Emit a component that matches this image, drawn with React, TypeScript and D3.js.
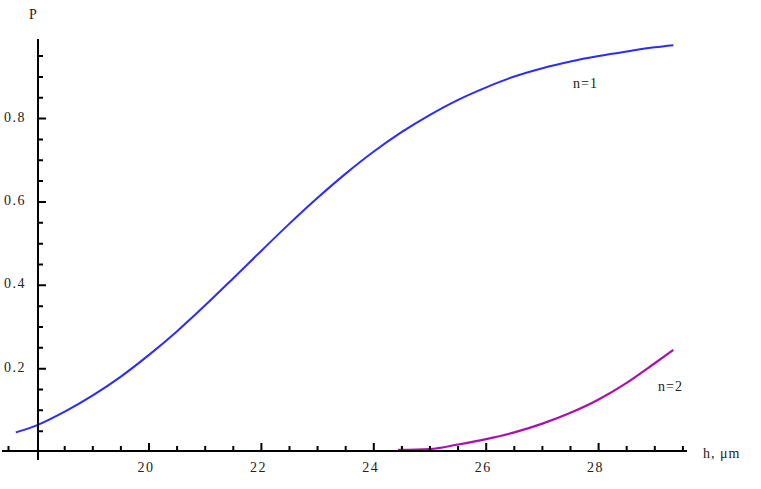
import React from "react";
import * as d3 from "d3";

const xTicksMajor = [20, 22, 24, 26, 28];
const yTicksMajor = [0.2, 0.4, 0.6, 0.8];

const hN1 = [17.63, 18, 18.5, 19, 19.5, 20, 20.5, 21, 21.5, 22, 22.5, 23, 23.5, 24, 24.5, 25, 25.5, 26, 26.5, 27, 27.5, 28, 28.5, 29, 29.33];
const pN1 = [0.047, 0.064, 0.097, 0.136, 0.181, 0.233, 0.29, 0.352, 0.417, 0.483, 0.548, 0.61, 0.668, 0.721, 0.768, 0.809, 0.845, 0.875, 0.901, 0.921, 0.937, 0.95, 0.961, 0.971, 0.976];

const hN2 = [24.43, 25.0, 25.5, 26, 26.5, 27, 27.5, 28, 28.5, 29, 29.33];
const pN2 = [0.005, 0.007, 0.018, 0.031, 0.047, 0.068, 0.094, 0.126, 0.166, 0.213, 0.245];

const W = 761;
const H = 489;

export default function App() {
  const x = d3.scaleLinear().domain([20, 28]).range([149, 598.6]);
  const y = d3.scaleLinear().domain([0, 0.8]).range([452, 118.6]);

  const line = d3
    .line<[number, number]>()
    .x((d) => x(d[0]))
    .y((d) => y(d[1]))
    .curve(d3.curveMonotoneX);

  const d1 = line(hN1.map((h, i) => [h, pN1[i]] as [number, number])) || "";
  const d2 = line(hN2.map((h, i) => [h, pN2[i]] as [number, number])) || "";

  const axisX0 = 38;
  const axisY0 = 451;

  const xMinor = d3.range(17.5, 29.51, 0.5).filter((v) => !xTicksMajor.some((m) => Math.abs(m - v) < 1e-6) && Math.abs(v - 18) > 1e-6);
  const yMinor = d3.range(0.05, 0.96, 0.05).filter((v) => !yTicksMajor.some((m) => Math.abs(m - v) < 1e-6));

  const font = "'Liberation Serif', 'Times New Roman', serif";

  const tickPath =
    xTicksMajor.map((v) => `M${x(v)},${axisY0}V${axisY0 - 8}`).join("") +
    xMinor.map((v) => `M${x(v)},${axisY0}V${axisY0 - 5}`).join("") +
    yTicksMajor.map((v) => `M${axisX0},${y(v)}H${axisX0 + 8}`).join("") +
    yMinor.map((v) => `M${axisX0},${y(v)}H${axisX0 + 5}`).join("");

  return (
    <svg width={W} height={H} style={{ position: "absolute", left: 0, top: 0, background: "#fff" }}>
      {/* curves */}
      <path d={d1} fill="none" stroke="#2b2bff" strokeWidth={2} />
      <path d={d2} fill="none" stroke="#aa10b0" strokeWidth={2.2} />

      {/* axes */}
      <path d={`M2,${axisY0}H687M${axisX0},39V460`} fill="none" stroke="#000" strokeWidth={2} />
      <path d={tickPath} fill="none" stroke="#000" strokeWidth={2} />

      {xTicksMajor.map((v) => (
        <text key={"xl" + v} x={x(v) - 3} y={472} fontFamily={font} fontSize={14} letterSpacing={1.5} textAnchor="middle" fill="#222">
          {v}
        </text>
      ))}
      {yTicksMajor.map((v) => (
        <text key={"yl" + v} x={26} y={y(v) + 3} fontFamily={font} fontSize={14} letterSpacing={1.5} textAnchor="end" fill="#222">
          {v.toFixed(1)}
        </text>
      ))}

      {/* labels */}
      <text x={29} y={19} fontFamily={font} fontSize={14} fill="#222">P</text>
      <text x={573} y={88} fontFamily={font} fontSize={14} letterSpacing={1} fill="#222">n=1</text>
      <text x={658} y={391} fontFamily={font} fontSize={14} letterSpacing={1} fill="#222">n=2</text>
      <text x={703} y={458} fontFamily={font} fontSize={14} letterSpacing={1} fill="#222">h, μm</text>
    </svg>
  );
}
